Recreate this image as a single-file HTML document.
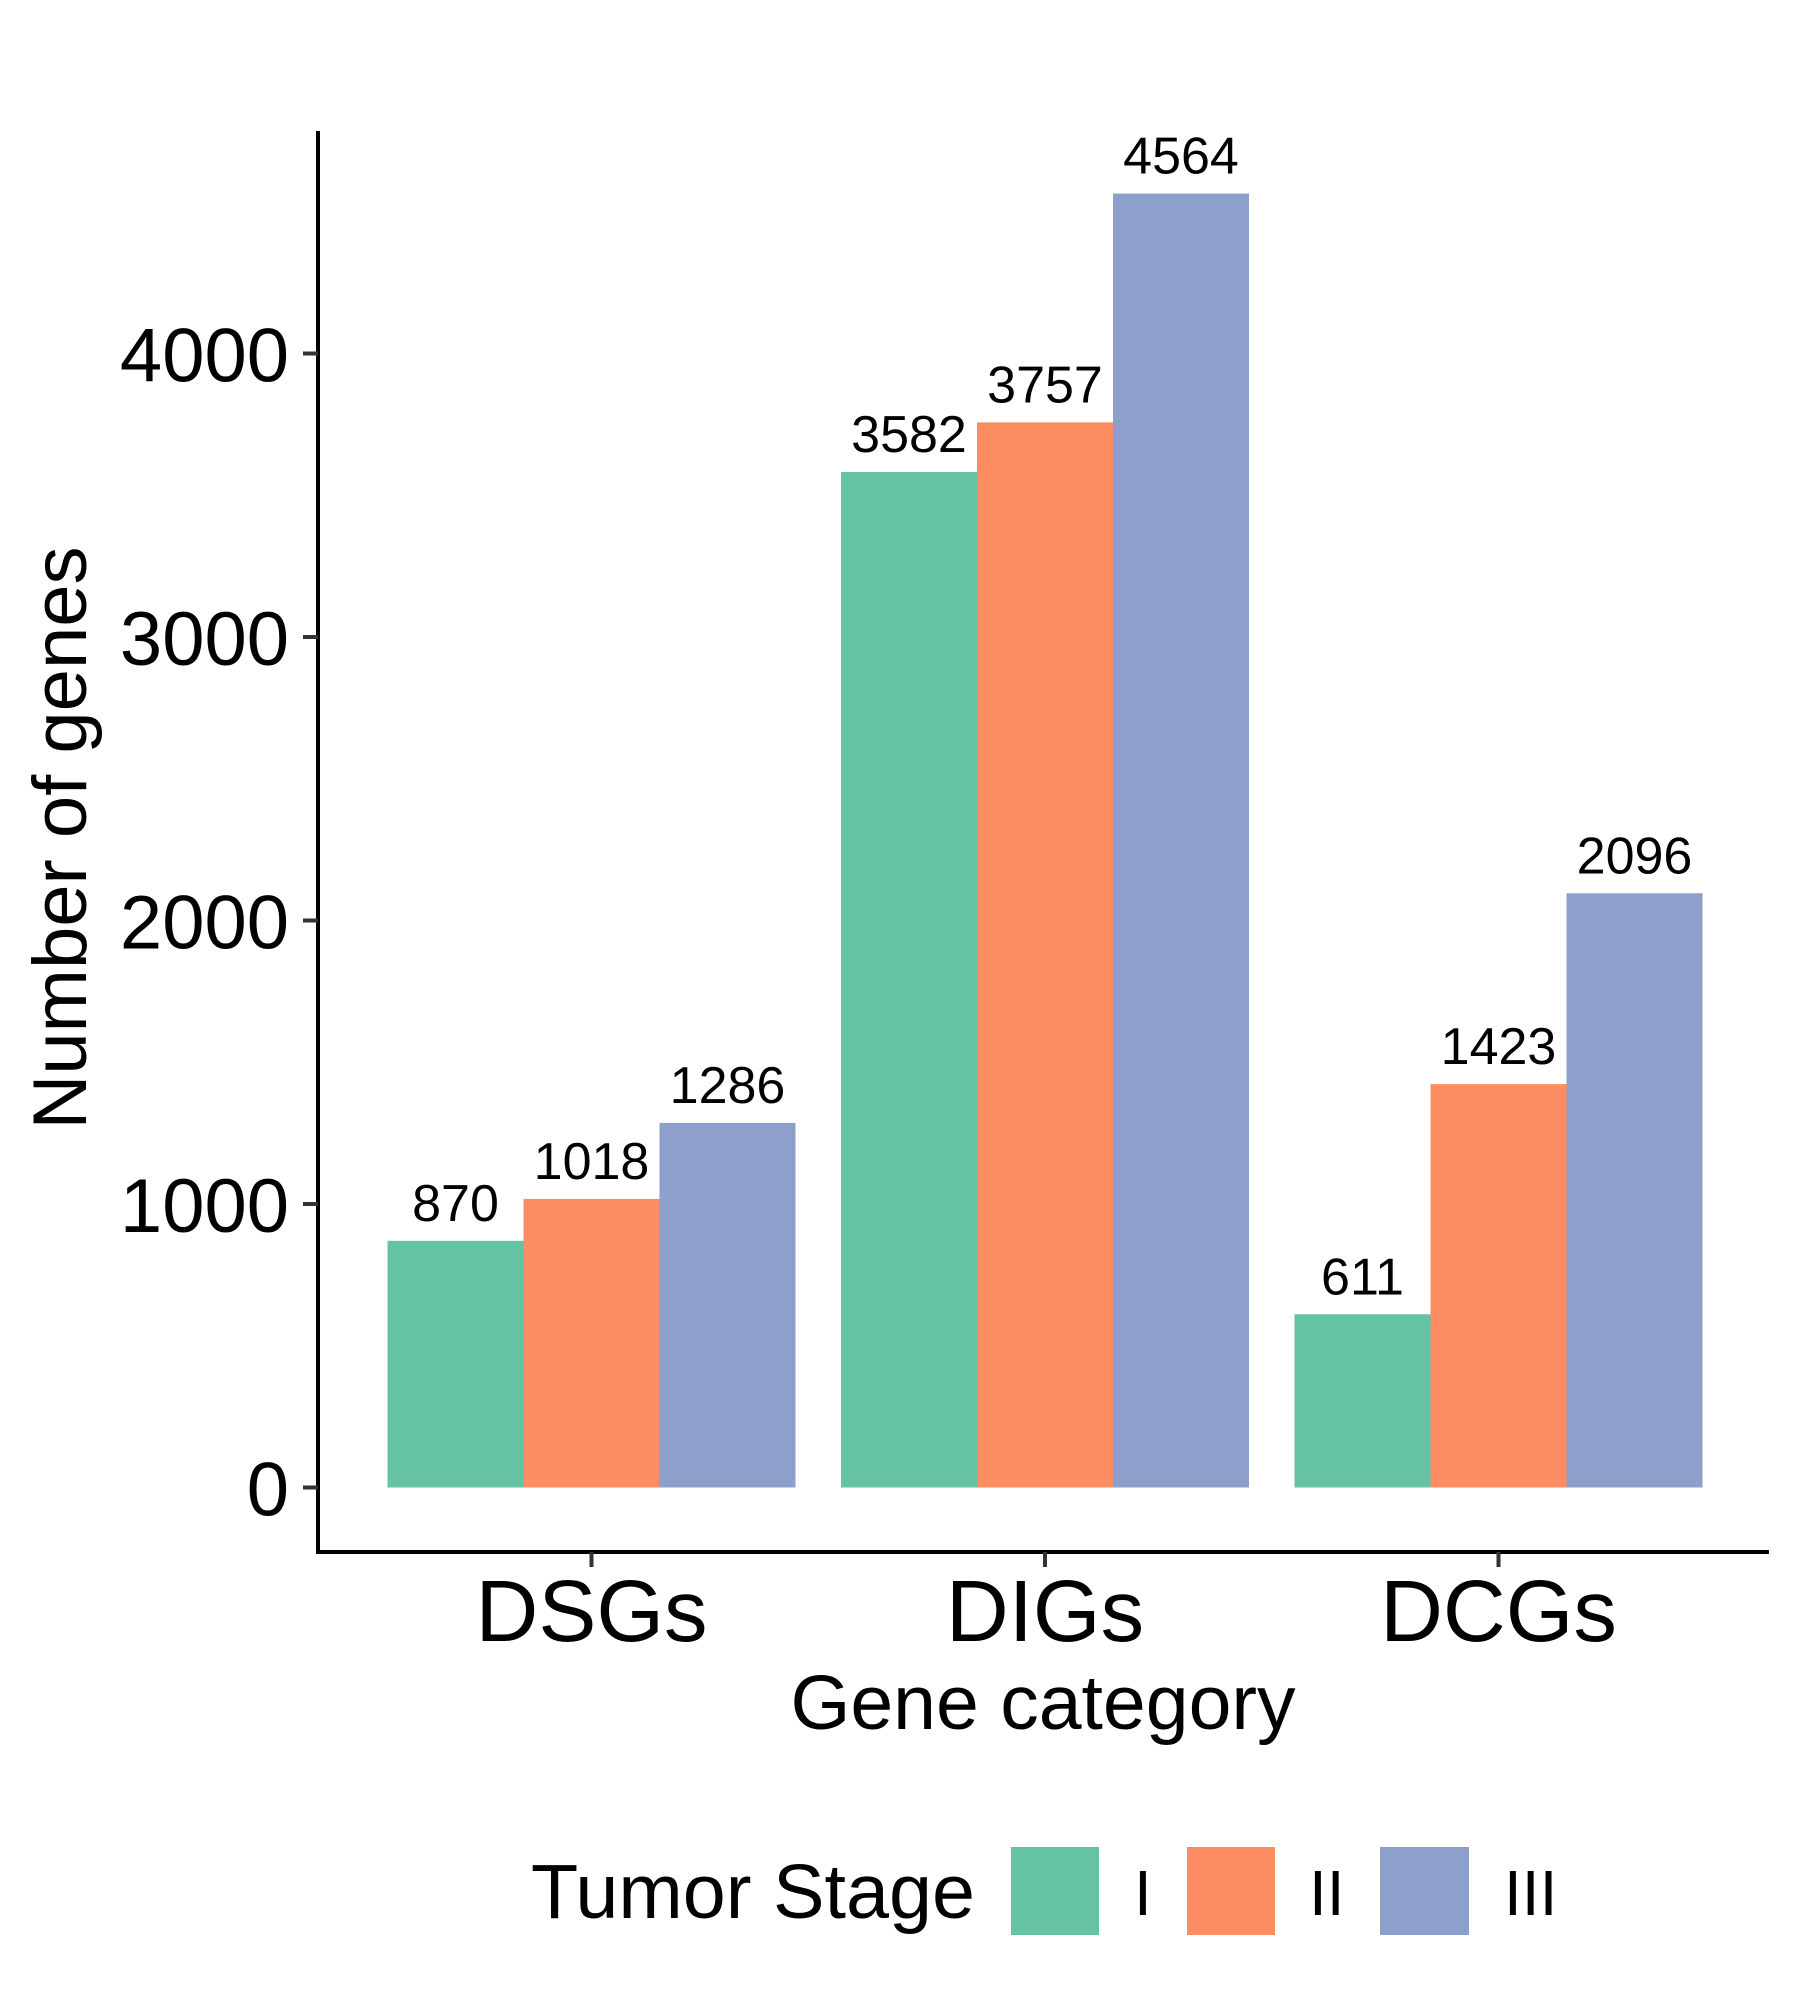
<!DOCTYPE html>
<html><head><meta charset="utf-8"><style>
html,body{margin:0;padding:0;background:#fff}
svg{display:block}
text{font-family:"Liberation Sans",Arial,sans-serif;fill:#000}
</style></head><body>
<svg id="chart" width="1800" height="2000" viewBox="0 0 1800 2000">
<g id="bars"></g>
<g id="labels"></g>
<g id="yaxis"></g>
<g id="xaxis"></g>
<text x="0" y="0" font-size="76" text-anchor="middle" transform="translate(86,838) rotate(-90)">Number of genes</text>
<text x="1043" y="1729" font-size="77" text-anchor="middle">Gene category</text>
<g>
<text x="531" y="1918" font-size="77" textLength="444" lengthAdjust="spacingAndGlyphs">Tumor Stage</text>
<rect x="1011" y="1847" width="88" height="88" fill="#66c2a5"/>
<text x="1134" y="1915" font-size="64">I</text>
<rect x="1187" y="1847" width="88" height="88" fill="#fc8d62"/>
<text x="1309" y="1915" font-size="64">II</text>
<rect x="1380" y="1847" width="89" height="88" fill="#8da0cb"/>
<text x="1504" y="1915" font-size="64">III</text>
</g>
</svg>
<script>
const categories = ["DSGs", "DIGs", "DCGs"];
const stageI = [870, 3582, 611];
const stageII = [1018, 3757, 1423];
const stageIII = [1286, 4564, 2096];
const yTicks = [0, 1000, 2000, 3000, 4000];

const NS = "http://www.w3.org/2000/svg";
const colors = ["#66c2a5", "#fc8d62", "#8da0cb"];
const stageNames = ["i", "ii", "iii"];
const series = [stageI, stageII, stageIII];
const y0 = 1487.5, pxPerUnit = 0.2835;
function yScale(v){ return y0 - v * pxPerUnit; }
const firstCenter = 591.5, catStep = 453.5, barW = 136;
function xCenter(i){ return firstCenter + i * catStep; }
function mk(tag, attrs){ const e = document.createElementNS(NS, tag); for (const k in attrs) e.setAttribute(k, attrs[k]); return e; }

const gb = document.getElementById("bars"), gl = document.getElementById("labels");
categories.forEach((c, i) => {
  series.forEach((s, j) => {
    const x = xCenter(i) + (j - 1.5) * barW;
    const r = mk("rect", {x: x, y: yScale(s[i]), width: barW, height: yScale(0) - yScale(s[i]), fill: colors[j]});
    
    
    gb.appendChild(r);
    const t = mk("text", {x: x + barW / 2, y: yScale(s[i]) - 20, "font-size": 52, "text-anchor": "middle"});
    t.textContent = s[i];
    
    
    gl.appendChild(t);
  });
});

const gy = document.getElementById("yaxis");
const yl = mk("line", {x1: 318, y1: 131, x2: 318, y2: 1554, stroke: "#000", "stroke-width": 4});


gy.appendChild(yl);
yTicks.forEach(v => {
  const tk = mk("line", {x1: 303, x2: 318, y1: yScale(v), y2: yScale(v), stroke: "#333", "stroke-width": 4});
  
  
  gy.appendChild(tk);
  const t = mk("text", {x: 289, y: yScale(v) + 28, "font-size": 76, "text-anchor": "end"});
  t.textContent = v;
  
  
  gy.appendChild(t);
});

const gx = document.getElementById("xaxis");
const xl = mk("line", {x1: 316, y1: 1552, x2: 1769, y2: 1552, stroke: "#000", "stroke-width": 4});


gx.appendChild(xl);
categories.forEach((c, i) => {
  const tk = mk("line", {x1: xCenter(i), x2: xCenter(i), y1: 1552, y2: 1567, stroke: "#333", "stroke-width": 4});
  
  
  gx.appendChild(tk);
  const t = mk("text", {x: xCenter(i), y: 1641, "font-size": 87, "text-anchor": "middle"});
  t.textContent = c;
  
  
  gx.appendChild(t);
});
</script>
</body></html>
